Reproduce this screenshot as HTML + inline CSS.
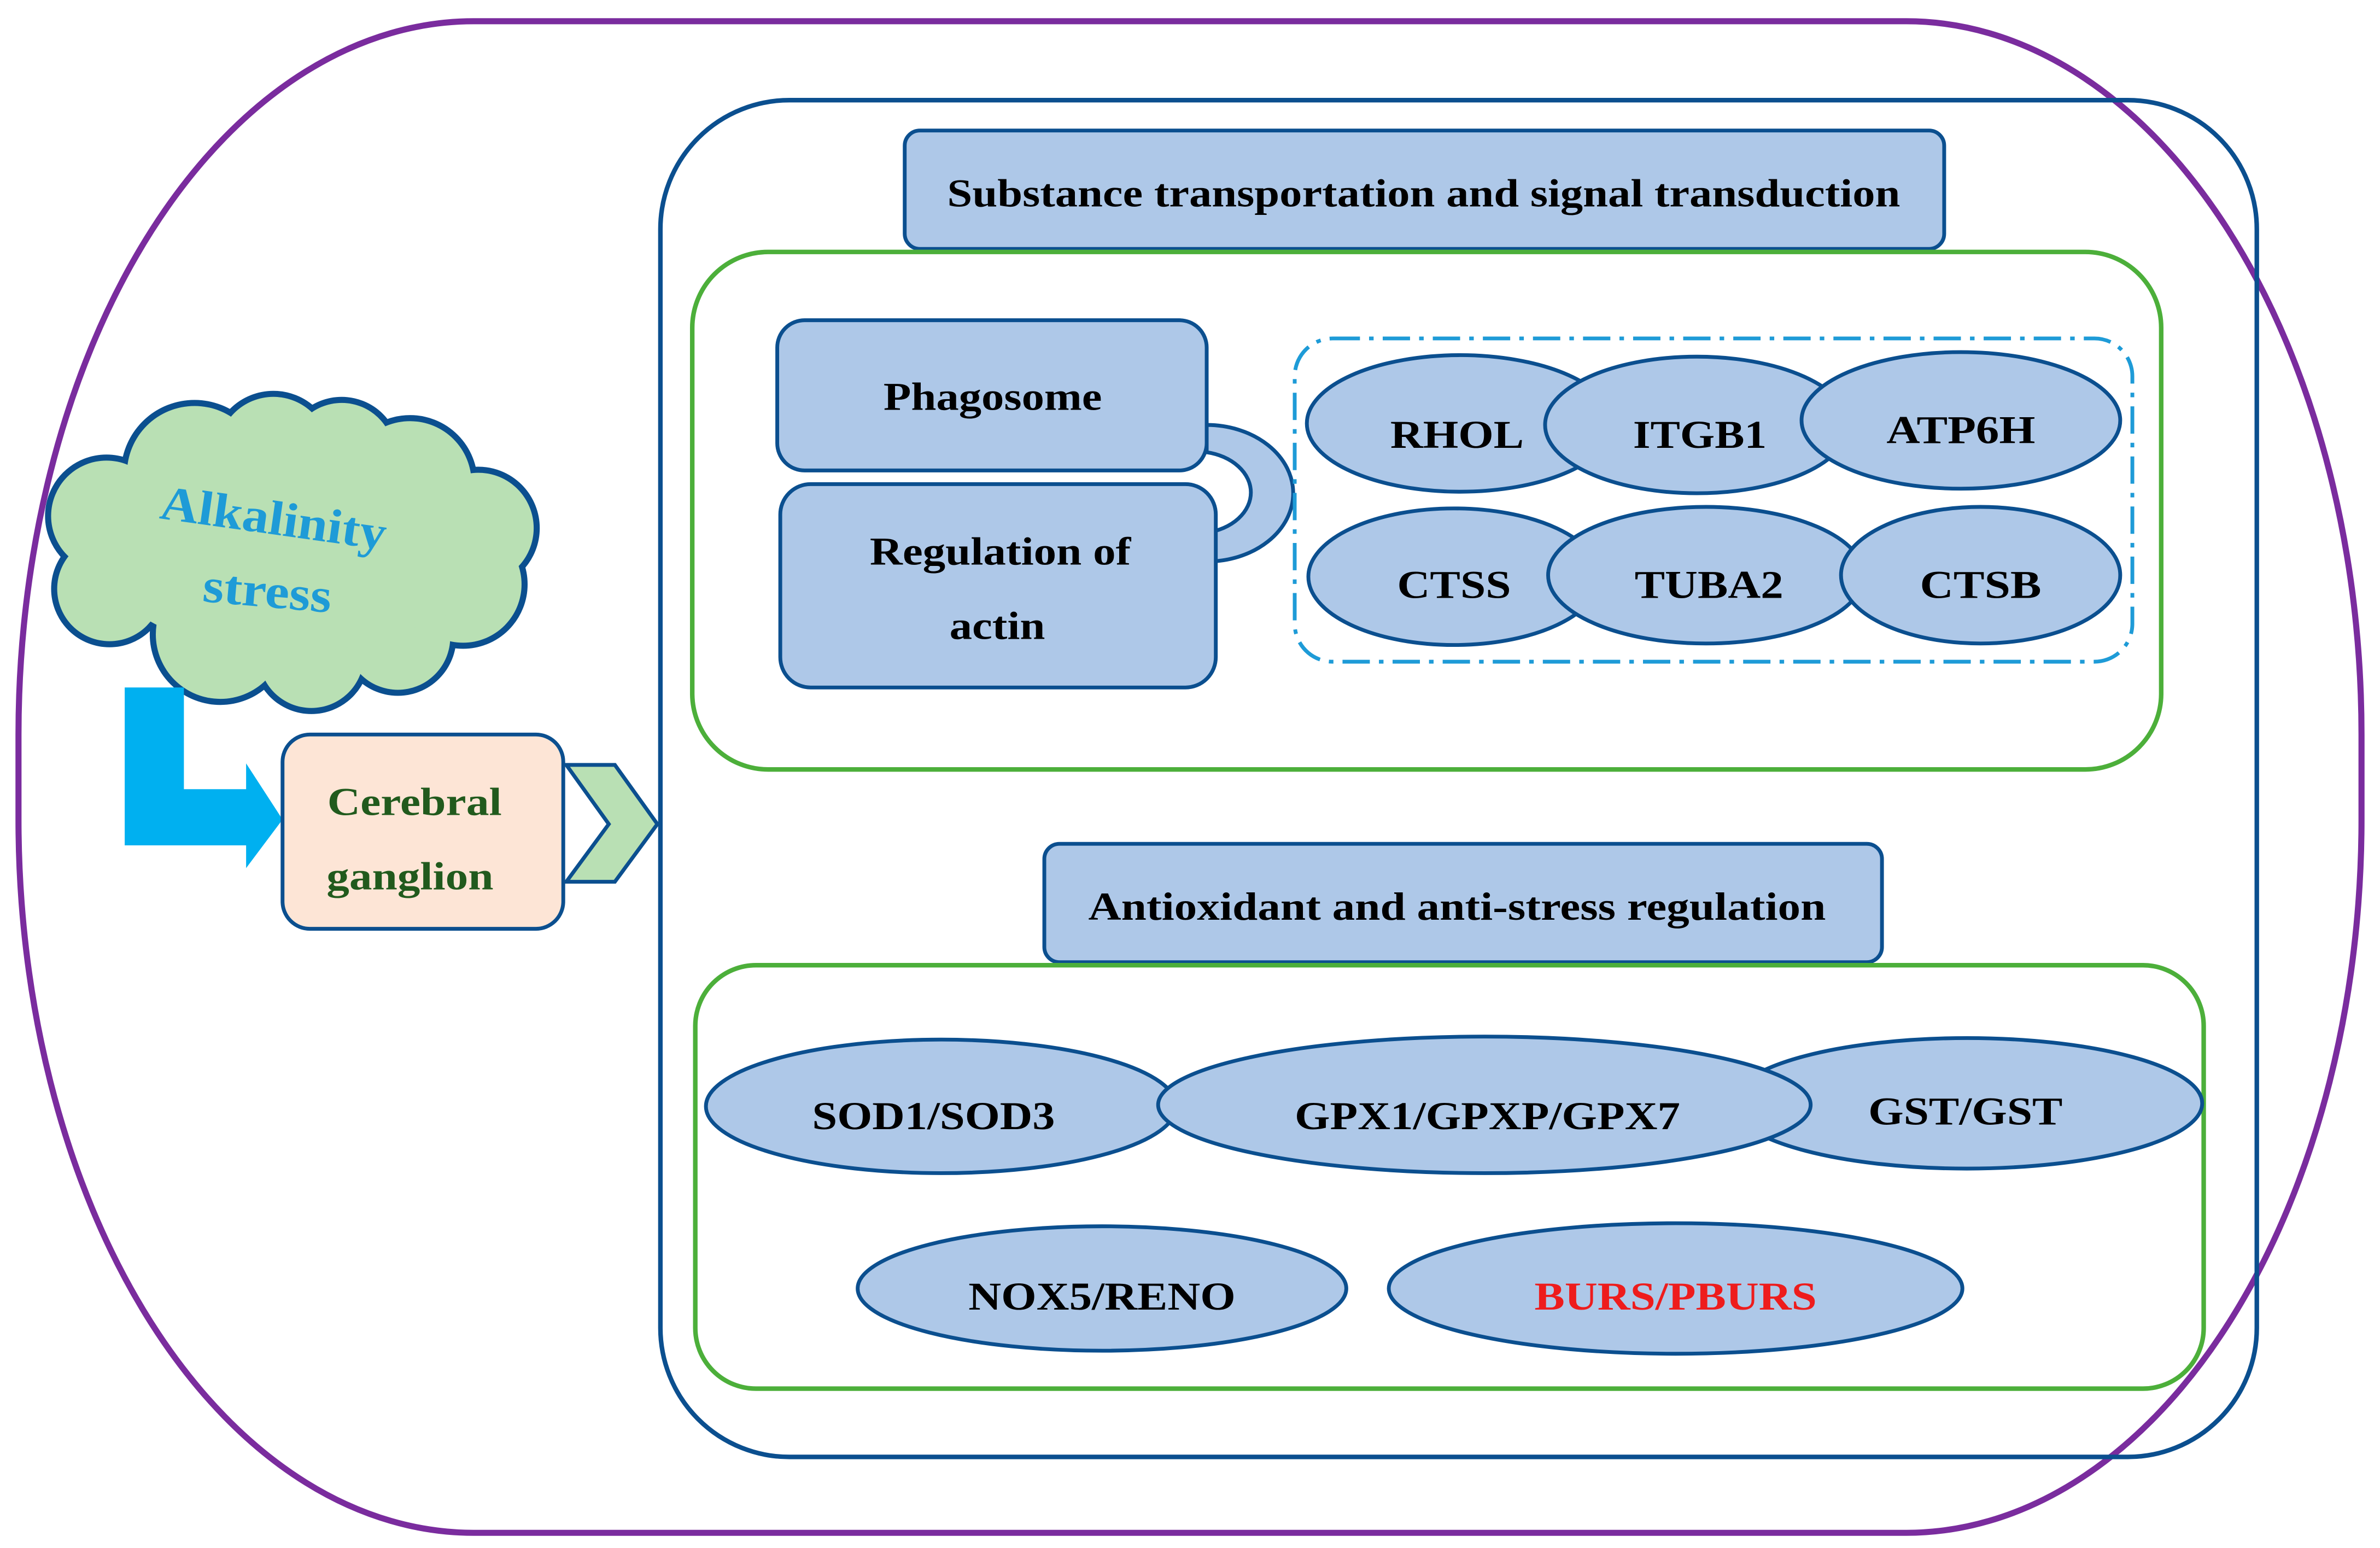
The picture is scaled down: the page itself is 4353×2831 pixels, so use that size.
<!DOCTYPE html>
<html><head><meta charset="utf-8"><style>html,body{margin:0;padding:0;background:#fff}svg{display:block}</style></head>
<body>
<svg width="4353" height="2831" viewBox="0 0 1568 1020" xmlns="http://www.w3.org/2000/svg" font-family="'Liberation Serif', serif" font-weight="bold">
<rect x="0" y="0" width="1568" height="1020" fill="#fff"/>
<rect x="12" y="14" width="1544" height="996" rx="300" ry="470" fill="none" stroke="#7a2c9e" stroke-width="4"/>
<rect x="435" y="66" width="1052" height="894" rx="85" ry="85" fill="none" stroke="#0b4f8f" stroke-width="3"/>
<rect x="596" y="86" width="685" height="78" rx="10" fill="#aec8e8" stroke="#0b4f8f" stroke-width="2.5"/>
<text x="938" y="136" font-size="26" text-anchor="middle" textLength="628" lengthAdjust="spacingAndGlyphs">Substance transportation and signal transduction</text>
<rect x="456" y="166" width="968" height="341" rx="50" fill="none" stroke="#4caf3a" stroke-width="3"/>
<path d="M795 280 A57 45 0 0 1 795 370 L795 351 A36 27 0 0 0 795 298 Z" fill="#aec8e8" stroke="#0b4f8f" stroke-width="2.5"/>
<rect x="512" y="211" width="283" height="99" rx="18" fill="#aec8e8" stroke="#0b4f8f" stroke-width="2.5"/>
<text x="654" y="270" font-size="26" text-anchor="middle" textLength="144" lengthAdjust="spacingAndGlyphs">Phagosome</text>
<rect x="514" y="319" width="287" height="134" rx="20" fill="#aec8e8" stroke="#0b4f8f" stroke-width="2.5"/>
<text x="659" y="372" font-size="26" text-anchor="middle" textLength="172" lengthAdjust="spacingAndGlyphs">Regulation of</text>
<text x="657" y="421" font-size="26" text-anchor="middle" textLength="63" lengthAdjust="spacingAndGlyphs">actin</text>
<rect x="853" y="223" width="552" height="213" rx="25" fill="none" stroke="#1e9bd7" stroke-width="2.5" stroke-dasharray="18,6,3,6"/>
<g fill="#aec8e8" stroke="#0b4f8f" stroke-width="2.5">
<ellipse cx="962" cy="279" rx="101" ry="45"/>
<ellipse cx="1118" cy="280" rx="100" ry="45"/>
<ellipse cx="1292" cy="277" rx="105" ry="45"/>
<ellipse cx="958" cy="380" rx="96" ry="45"/>
<ellipse cx="1124" cy="379" rx="104" ry="45"/>
<ellipse cx="1305" cy="379" rx="92" ry="45"/>
</g>
<g font-size="26" text-anchor="middle">
<text x="960" y="295" textLength="88" lengthAdjust="spacingAndGlyphs">RHOL</text>
<text x="1120" y="295" textLength="88" lengthAdjust="spacingAndGlyphs">ITGB1</text>
<text x="1292" y="292" textLength="98" lengthAdjust="spacingAndGlyphs">ATP6H</text>
<text x="958" y="394" textLength="75" lengthAdjust="spacingAndGlyphs">CTSS</text>
<text x="1126" y="394" textLength="98" lengthAdjust="spacingAndGlyphs">TUBA2</text>
<text x="1305" y="394" textLength="80" lengthAdjust="spacingAndGlyphs">CTSB</text>
</g>
<rect x="688" y="556" width="552" height="78" rx="10" fill="#aec8e8" stroke="#0b4f8f" stroke-width="2.5"/>
<text x="960" y="606" font-size="26" text-anchor="middle" textLength="486" lengthAdjust="spacingAndGlyphs">Antioxidant and anti-stress regulation</text>
<rect x="458" y="636" width="994" height="279" rx="40" fill="none" stroke="#4caf3a" stroke-width="3"/>
<g fill="#aec8e8" stroke="#0b4f8f" stroke-width="2.5">
<ellipse cx="620" cy="729" rx="155" ry="44"/>
<ellipse cx="1296" cy="727" rx="155" ry="43"/>
<ellipse cx="978" cy="728" rx="215" ry="45"/>
<ellipse cx="726" cy="849" rx="161" ry="41"/>
<ellipse cx="1104" cy="849" rx="189" ry="43"/>
</g>
<g font-size="26" text-anchor="middle">
<text x="615" y="744" textLength="160" lengthAdjust="spacingAndGlyphs">SOD1/SOD3</text>
<text x="980" y="744" textLength="254" lengthAdjust="spacingAndGlyphs">GPX1/GPXP/GPX7</text>
<text x="1295" y="741" textLength="128" lengthAdjust="spacingAndGlyphs">GST/GST</text>
<text x="726" y="863" textLength="176" lengthAdjust="spacingAndGlyphs">NOX5/RENO</text>
<text x="1104" y="863" textLength="186" lengthAdjust="spacingAndGlyphs" fill="#ee1c1c">BURS/PBURS</text>
</g>
<g stroke="#0b4f8f" stroke-width="5" fill="#b9e0b4">
<circle cx="70" cy="340" r="38"/><circle cx="128" cy="312" r="46"/><circle cx="180" cy="298" r="38"/>
<circle cx="225" cy="300" r="36"/><circle cx="270" cy="318" r="42"/><circle cx="315" cy="348" r="38"/>
<circle cx="305" cy="385" r="40"/><circle cx="262" cy="420" r="36"/><circle cx="205" cy="432" r="36"/>
<circle cx="145" cy="418" r="44"/><circle cx="72" cy="388" r="36"/>
</g>
<g fill="#b9e0b4">
<circle cx="70" cy="340" r="36.5"/><circle cx="128" cy="312" r="44.5"/><circle cx="180" cy="298" r="36.5"/>
<circle cx="225" cy="300" r="34.5"/><circle cx="270" cy="318" r="40.5"/><circle cx="315" cy="348" r="36.5"/>
<circle cx="305" cy="385" r="38.5"/><circle cx="262" cy="420" r="34.5"/><circle cx="205" cy="432" r="34.5"/>
<circle cx="145" cy="418" r="42.5"/><circle cx="72" cy="388" r="34.5"/>
<ellipse cx="190" cy="365" rx="125" ry="65"/>
</g>
<g fill="#1e9bd7" font-size="32" text-anchor="middle">
<text x="180" y="352" transform="rotate(8 180 342)" textLength="150" lengthAdjust="spacingAndGlyphs">Alkalinity</text>
<text x="176" y="400" transform="rotate(5 176 390)" textLength="85" lengthAdjust="spacingAndGlyphs">stress</text>
</g>
<path d="M82 453 H121 V520 H162 V503 L186 540 L162 572 V557 H82 Z" fill="#00b0f0"/>
<rect x="186" y="484" width="185" height="128" rx="18" fill="#fde5d6" stroke="#0b4f8f" stroke-width="2.5"/>
<g fill="#215a1d" font-size="26" text-anchor="middle">
<text x="273" y="537" textLength="115" lengthAdjust="spacingAndGlyphs">Cerebral</text>
<text x="270" y="586" textLength="110" lengthAdjust="spacingAndGlyphs">ganglion</text>
</g>
<path d="M373 504 L405 504 L433 543 L405 581 L373 581 L401 543 Z" fill="#b9e0b4" stroke="#0b4f8f" stroke-width="2.5"/>
</svg>
</body></html>
